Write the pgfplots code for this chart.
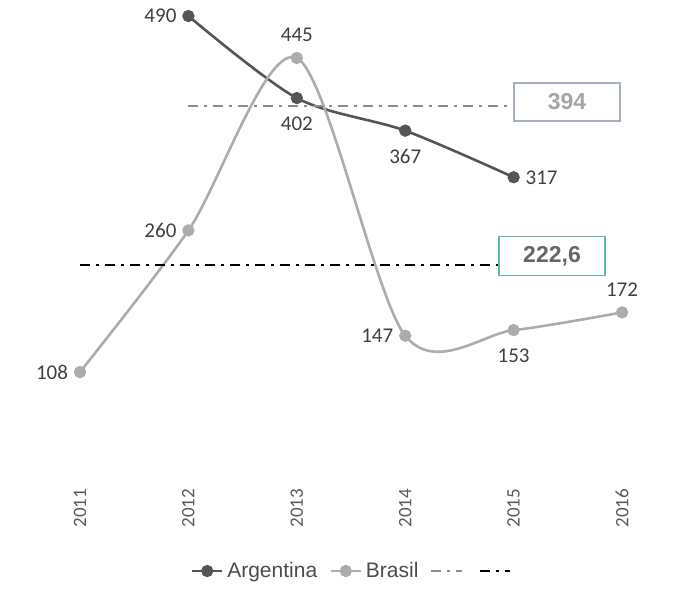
\documentclass[border=0pt]{standalone}
\usepackage{pgfplots}
\pgfplotsset{compat=1.18}
\usepackage{fontspec}
\setmainfont{Carlito}
\newfontfamily\arialf{Liberation Sans}
\definecolor{argc}{RGB}{85,85,85}
\definecolor{brac}{RGB}{172,172,172}
\definecolor{avgg}{RGB}{140,140,140}
\definecolor{boxg}{RGB}{95,185,160}
\definecolor{boxb}{RGB}{165,175,190}
\pgfplotsset{lbls/.style={
  point meta=explicit symbolic,
  nodes near coords,
  visualization depends on={value \thisrow{pos} \as \lblpos},
  visualization depends on={\thisrow{dy} \as \lbldy},
  every node near coord/.append style={anchor=\lblpos, yshift=\lbldy pt, font=\fontsize{10.5}{12}\selectfont, text=black!75, inner sep=3pt, outer sep=3pt}}}

\begin{document}
\begin{tikzpicture}
\begin{axis}[
  scale only axis, width=336.5pt, height=236.35pt,
  xmin=2010.262, xmax=2016.47, ymin=0, ymax=507.2,
  clip=false,
  axis line style={draw=none}, major tick length=0pt,
  ytick=\empty,
  xtick={2011,...,2016},
  xticklabel style={yshift=-4.5pt, rotate=90, anchor=east, font=\fontsize{9.5}{11}\selectfont, text=black!65},
  /pgf/number format/1000 sep={},
  /pgf/number format/assume math mode=true,
  legend columns=4,
  legend image code/.code={\draw[mark repeat=2,mark phase=2,#1] plot coordinates {(0cm,0cm) (0.27cm,0cm) (0.53cm,0cm)};},
  legend style={at={(0.527,-0.208)}, anchor=center, draw=none,
    font=\arialf\fontsize{10.5}{12}\selectfont, text=black!70,
    /tikz/every even column/.append style={column sep=4pt}},
]
\addplot[argc, line width=1.3pt, smooth, tension=0.5, mark=*, mark size=2.4pt, mark options={fill=argc, draw=argc}, lbls]
  table[x=x, y=y, meta=lab] {
x y lab pos dy
2012 490 490 east 0
2013 402 402 north -3.5
2014 367 367 north -3.5
2015 317 317 west 0
};
\addlegendentry{Argentina}
\addplot[brac, line width=1.3pt, smooth, tension=0.5, mark=*, mark size=2.4pt, mark options={fill=brac, draw=brac}, lbls]
  table[x=x, y=y, meta=lab] {
x y lab pos dy
2011 108 108 east 0
2012 260 260 east 0
2013 445 445 south 2
2014 147 147 east 0
2015 153 153 north -3.5
2016 172 172 south 2
};
\addlegendentry{Brasil}
\addplot[avgg, line width=1pt, dash pattern=on 5pt off 3pt on 1.5pt off 3pt]
  coordinates {(2012,394) (2015,394)};
\addlegendentry{}
\addplot[black, line width=1pt, dash pattern=on 5pt off 3pt on 1.5pt off 3pt]
  coordinates {(2011,222.6) (2014.87,222.6)};
\addlegendentry{}
\node[draw=boxb, line width=0.6pt, fill=white, minimum width=53pt, minimum height=19pt,
  font=\arialf\bfseries\fontsize{11.5}{13}\selectfont, text=black!35] at (axis cs:2015.493,397.7) {394};
\node[draw=boxg, line width=0.6pt, fill=white, minimum width=53pt, minimum height=19.5pt,
  font=\arialf\bfseries\fontsize{11.5}{13}\selectfont, text=black!60] at (axis cs:2015.354,232.5) {222,6};
\coordinate (bl) at (rel axis cs:0,-0.2566);
\coordinate (tr) at (rel axis cs:1,1);
\end{axis}
\pgfresetboundingbox
\path (bl) rectangle (tr);
\end{tikzpicture}
\end{document}
